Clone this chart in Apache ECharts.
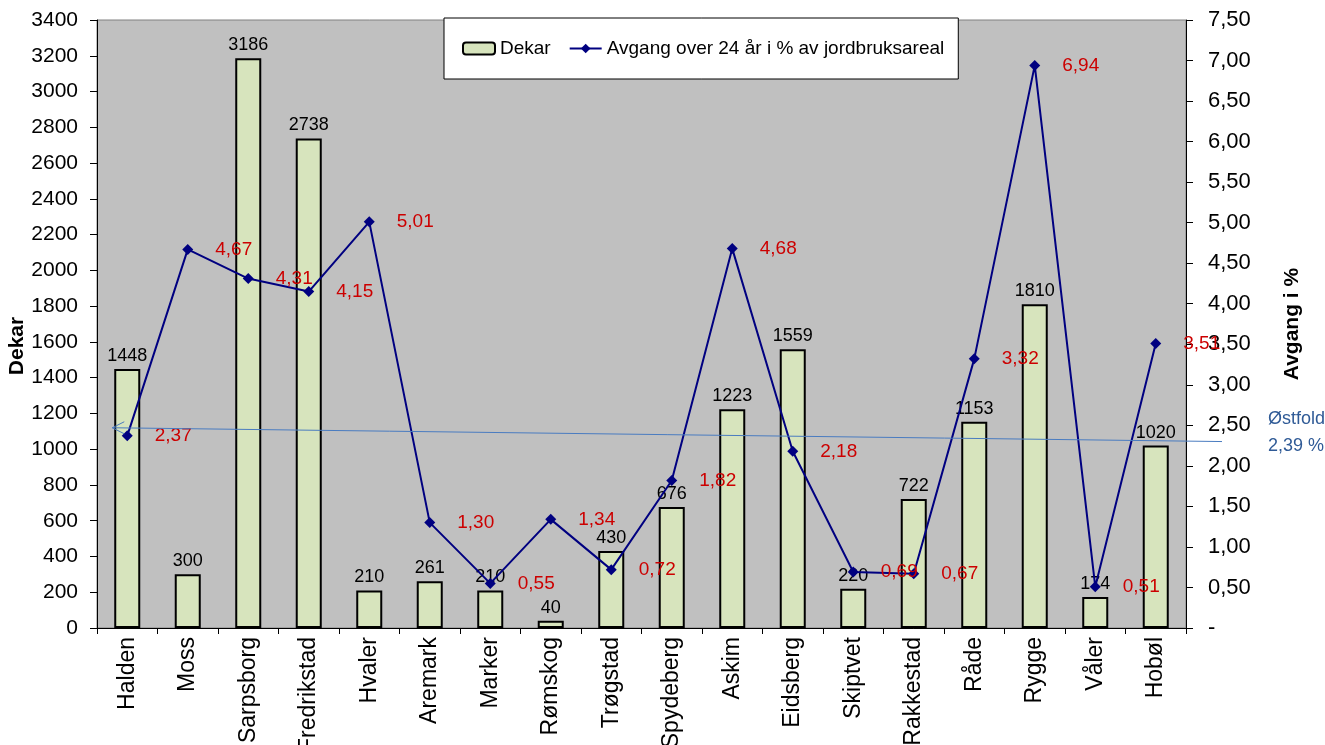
<!DOCTYPE html>
<html>
<head>
<meta charset="utf-8">
<script src="https://cdn.jsdelivr.net/npm/echarts@6/dist/echarts.min.js"></script>
<style>
html,body{margin:0;padding:0;background:#fff;}
#chart{width:1325px;height:745px;}
</style>
</head>
<body>
<div id="chart"></div>
<script>
const categories = ['Halden','Moss','Sarpsborg','Fredrikstad','Hvaler','Aremark','Marker','Rømskog','Trøgstad','Spydeberg','Askim','Eidsberg','Skiptvet','Rakkestad','Råde','Rygge','Våler','Hobøl'];
const dekar = [1448,300,3186,2738,210,261,210,40,430,676,1223,1559,220,722,1153,1810,174,1020];
const avgang = [2.37,4.67,4.31,4.15,5.01,1.30,0.55,1.34,0.72,1.82,4.68,2.18,0.69,0.67,3.32,6.94,0.51,3.51];
const leftAxis = {min: 0, max: 3400, interval: 200};
const rightAxis = {min: 0, max: 7.5, interval: 0.5};
const ostfoldValue = 2.39;
const ostfoldLineEnds = [2.47, 2.31];
const seriesNames = ['Dekar', 'Avgang over 24 år i % av jordbruksareal'];

const FONT = '"Liberation Sans", Arial, sans-serif';
const fmt = v => v.toFixed(2).replace('.', ',');

const chart = echarts.init(document.getElementById('chart'), null, {renderer: 'canvas'});
const option = {
  animation: false,
  backgroundColor: '#ffffff',
  textStyle: {fontFamily: FONT},
  grid: {left: 97, right: 139, top: 20, bottom: 117, show: true, backgroundColor: '#c0c0c0', borderColor: '#808080', borderWidth: 1, outerBoundsMode: 'none', containLabel: false},
  legend: {
    left: 444, top: 18,
    backgroundColor: '#ffffff', borderColor: '#000000', borderWidth: 1,
    padding: [21, 14, 21, 18], itemGap: 18, itemWidth: 32, itemHeight: 12,
    textStyle: {fontSize: 19, color: '#000', fontFamily: FONT},
    data: seriesNames
  },
  xAxis: {
    type: 'category', data: categories,
    axisLine: {lineStyle: {color: '#000', width: 1}},
    axisTick: {show: true, length: 6, lineStyle: {color: '#000'}},
    axisLabel: {rotate: 90, fontSize: 23, color: '#000', margin: 9, fontFamily: FONT, interval: 0},
    splitLine: {show: false}
  },
  yAxis: [
    {
      type: 'value', min: leftAxis.min, max: leftAxis.max, interval: leftAxis.interval,
      name: 'Dekar', nameLocation: 'middle', nameGap: 69, nameRotate: 90, nameMoveOverlap: false,
      nameTextStyle: {fontSize: 21, fontWeight: 'bold', color: '#000', fontFamily: FONT, padding: [0, 44, 0, 0]},
      axisLine: {show: true, lineStyle: {color: '#000', width: 1}},
      axisTick: {show: true, length: 7, lineStyle: {color: '#000'}},
      axisLabel: {fontSize: 21, color: '#000', margin: 19, fontFamily: FONT, formatter: v => String(v)},
      splitLine: {show: false}
    },
    {
      type: 'value', min: rightAxis.min, max: rightAxis.max, interval: rightAxis.interval,
      position: 'right',
      name: 'Avgang i %', nameLocation: 'middle', nameGap: 96, nameRotate: 90,
      nameTextStyle: {fontSize: 21, fontWeight: 'bold', color: '#000', fontFamily: FONT},
      axisLine: {show: true, lineStyle: {color: '#000', width: 1}},
      axisTick: {show: true, length: 7, lineStyle: {color: '#000'}},
      axisLabel: {fontSize: 22, color: '#000', margin: 22, fontFamily: FONT,
        formatter: v => v === 0 ? '-' : fmt(v)},
      splitLine: {show: false}
    }
  ],
  series: [
    {
      name: seriesNames[0], type: 'bar', yAxisIndex: 0, data: dekar,
      barWidth: '43%',
      itemStyle: {color: '#d7e4bd', borderColor: '#000', borderWidth: 2},
      label: {show: true, position: 'top', distance: 4, fontSize: 18, color: '#000', fontFamily: FONT}
    },
    {
      name: seriesNames[1], type: 'line', yAxisIndex: 1, data: avgang,
      symbol: 'diamond', symbolSize: 11,
      lineStyle: {color: '#000080', width: 2},
      itemStyle: {color: '#000080'},
      label: {show: true, position: 'right', distance: 22, fontSize: 19, color: '#cc0000', fontFamily: FONT,
        formatter: p => fmt(p.value)}
    }
  ]
};
chart.setOption(option);

// Østfold reference annotation, positioned through the chart's own scales
const toPx = (i, v) => chart.convertToPixel({xAxisIndex: 0, yAxisIndex: 1}, [i, v]);
const p0 = toPx(0, ostfoldLineEnds[0]);
const p1 = toPx(categories.length - 1, ostfoldLineEnds[1]);
const pv = toPx(categories.length - 1, ostfoldValue);
const gridRight = 1325 - 139;
const x0 = p0[0] - 15, y0 = p0[1];
const x1 = gridRight + 36;
const y1 = p0[1] + (p1[1] - p0[1]) * (x1 - x0) / (p1[0] - x0);
const annColor = '#4a7cc0';
chart.setOption({
  graphic: [
    {type: 'line', shape: {x1: x0, y1: y0, x2: x1, y2: y1}, style: {stroke: annColor, lineWidth: 1}, z: 100},
    {type: 'polyline', shape: {points: [[x0 + 12, y0 - 6], [x0, y0], [x0 + 12, y0 + 6]]}, style: {stroke: annColor, lineWidth: 1, fill: null}, z: 100},
    {type: 'text', left: gridRight + 82, top: pv[1] - 24, style: {text: 'Østfold', fill: '#2f5a96', font: '18px ' + FONT}, z: 100},
    {type: 'text', left: gridRight + 82, top: pv[1] + 3, style: {text: fmt(ostfoldValue) + ' %', fill: '#2f5a96', font: '18px ' + FONT}, z: 100}
  ]
});
</script>
</body>
</html>
